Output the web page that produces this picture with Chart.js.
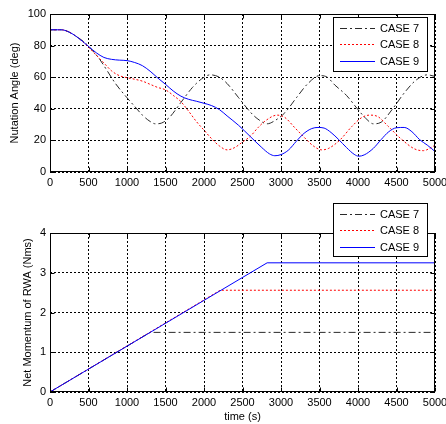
<!DOCTYPE html>
<html>
<head>
<meta charset="utf-8">
<script src="https://cdn.jsdelivr.net/npm/chart.js@4.4.1/dist/chart.umd.min.js"></script>
<style>
  html, body { margin: 0; padding: 0; background: #fff; }
  #wrap { position: relative; width: 446px; height: 424px; overflow: hidden; }
  canvas { position: absolute; left: 0; }
  #nutation-chart { top: 0; }
  #momentum-chart { top: 190px; }
</style>
</head>
<body>
<div id="wrap">
  <canvas id="nutation-chart" width="446" height="212"></canvas>
  <canvas id="momentum-chart" width="446" height="234"></canvas>
</div>
<script>
// series names
const caseLabels = ['CASE 7', 'CASE 8', 'CASE 9'];

// tick values
const timeTicks = [0, 500, 1000, 1500, 2000, 2500, 3000, 3500, 4000, 4500, 5000];
const angleTicks = [0, 20, 40, 60, 80, 100];
const momentumTicks = [0, 1, 2, 3, 4];

// nutation angle (deg)
const time7 = [0, 150, 250, 350, 450, 550, 650, 750, 850, 1000, 1100, 1200, 1300, 1370, 1450, 1550, 1700, 1850, 2000, 2080, 2200, 2300, 2450, 2600, 2700, 2820, 2920, 3050, 3200, 3350, 3500, 3600, 3700, 3850, 4000, 4100, 4200, 4300, 4450, 4600, 4750, 4900, 5000];
const angle7 = [90, 90, 88.5, 85.5, 82, 77, 71, 63.5, 56, 47, 41.5, 36, 32, 30.5, 31, 34.5, 44, 53.5, 60, 61.5, 60, 56, 47, 38, 33.5, 30.5, 32.5, 37.5, 47, 56, 61, 60, 55, 48.5, 39.5, 34, 30.5, 31.5, 40, 50, 58, 61.5, 60.5];

const time8 = [0, 150, 250, 350, 500, 600, 700, 800, 900, 1000, 1100, 1200, 1300, 1400, 1500, 1600, 1700, 1800, 1900, 2000, 2100, 2200, 2300, 2400, 2500, 2600, 2700, 2800, 2950, 3050, 3180, 3300, 3420, 3530, 3620, 3770, 3920, 4050, 4150, 4260, 4390, 4570, 4740, 4850, 4950, 5000];
const angle8 = [90, 90, 88.5, 85.5, 79, 74, 69, 64, 61, 59.7, 58.7, 57.5, 55.5, 53.5, 52, 48.5, 44.5, 38.5, 32, 26.5, 21, 16.5, 14, 15.5, 19, 22.5, 28, 32.5, 36, 34.5, 28, 22, 16.5, 14, 15, 20.5, 28.8, 34.5, 36, 35, 29, 20.5, 14.5, 13.5, 15.5, 17];

const time9 = [0, 150, 250, 350, 500, 600, 700, 800, 900, 1000, 1100, 1200, 1300, 1400, 1500, 1600, 1700, 1800, 1900, 2000, 2100, 2200, 2300, 2450, 2600, 2750, 2850, 2920, 3000, 3100, 3200, 3300, 3400, 3480, 3560, 3650, 3750, 3850, 3950, 4010, 4080, 4200, 4300, 4400, 4500, 4600, 4700, 4800, 4900, 5000];
const angle9 = [90, 90, 88.5, 85.5, 79.5, 75.5, 72.5, 71.3, 70.8, 70.5, 69.3, 67.3, 63.8, 59.5, 55.5, 51.3, 48, 46, 44.8, 43.5, 42, 39.5, 35.5, 29.5, 22.5, 15.5, 11.5, 10.3, 11, 14, 19.5, 24.5, 27.5, 28.2, 27.8, 25, 20.5, 15.5, 11.2, 10, 10.8, 15, 20.5, 25.5, 28, 28.2, 25.5, 20.5, 17, 13];

// net momentum of RWA (Nms)
const mTime7 = [0, 1300, 5000];
const momentum7 = [0, 1.5, 1.5];
const mTime8 = [0, 2210, 5000];
const momentum8 = [0, 2.56, 2.56];
const mTime9 = [0, 2820, 5000];
const momentum9 = [0, 3.25, 3.25];

const FONT = '"Liberation Sans", Arial, sans-serif';
Chart.defaults.font.family = FONT;
Chart.defaults.font.size = 11;
Chart.defaults.color = '#000';

const styles = [
  { color: '#2a2a2a', dash: [7, 3, 2, 3], order: 3 },
  { color: '#ff0000', dash: [2, 2], order: 2 },
  { color: '#0000ff', dash: [], order: 1 }
];

function pairs(xs, ys) {
  return xs.map((x, i) => ({ x: x, y: ys[i] }));
}

function makeDatasets(series, smooth) {
  return series.map((s, i) => ({
    label: caseLabels[i],
    data: pairs(s[0], s[1]),
    borderColor: styles[i].color,
    borderDash: styles[i].dash,
    order: styles[i].order,
    borderWidth: 1,
    pointRadius: 0,
    fill: false,
    cubicInterpolationMode: smooth ? 'monotone' : 'default',
    tension: 0
  }));
}

// solid box round the plot area with small inward ticks
const framePlugin = {
  id: 'frame',
  afterDatasetsDraw(chart) {
    const { ctx, chartArea: a, scales } = chart;
    const L = a.left + 0.5, R = a.right - 0.5, T = a.top + 0.5, B = a.bottom - 0.5;
    ctx.save();
    ctx.strokeStyle = '#000';
    ctx.lineWidth = 1;
    ctx.setLineDash([]);
    ctx.strokeRect(L, T, R - L, B - T);
    ctx.beginPath();
    scales.x.ticks.forEach(t => {
      const px = Math.round(scales.x.getPixelForValue(t.value)) + 0.5;
      ctx.moveTo(px, B); ctx.lineTo(px, B - 4);
      ctx.moveTo(px, T); ctx.lineTo(px, T + 4);
    });
    scales.y.ticks.forEach(t => {
      const py = Math.round(scales.y.getPixelForValue(t.value)) + 0.5;
      ctx.moveTo(L, py); ctx.lineTo(L + 4, py);
      ctx.moveTo(R, py); ctx.lineTo(R - 4, py);
    });
    ctx.stroke();
    ctx.restore();
  }
};

// legend box drawn inside the axes, like the original figure
const boxLegend = {
  id: 'boxLegend',
  afterDraw(chart, args, opts) {
    const { ctx } = chart;
    const { x, y, w, h, rowTop, rowGap } = opts;
    ctx.save();
    ctx.fillStyle = '#fff';
    ctx.fillRect(x, y, w, h);
    ctx.strokeStyle = '#000';
    ctx.lineWidth = 1;
    ctx.setLineDash([]);
    ctx.strokeRect(x + 0.5, y + 0.5, w, h);
    ctx.font = '11px ' + FONT;
    ctx.textBaseline = 'middle';
    ctx.textAlign = 'left';
    caseLabels.forEach((label, i) => {
      const cy = Math.round(y + rowTop + i * rowGap) + 0.5;
      ctx.strokeStyle = styles[i].color;
      ctx.lineWidth = 1;
      ctx.setLineDash(styles[i].dash);
      ctx.beginPath();
      ctx.moveTo(x + 7, cy);
      ctx.lineTo(x + 42, cy);
      ctx.stroke();
      ctx.setLineDash([]);
      ctx.fillStyle = '#000';
      ctx.fillText(label, x + 47, cy);
    });
    ctx.restore();
  }
};

function axisOptions(opt) {
  return {
    x: {
      type: 'linear',
      min: 0,
      max: 5000,
      afterBuildTicks: s => { s.ticks = timeTicks.map(v => ({ value: v })); },
      ticks: { padding: 4, maxRotation: 0, autoSkip: false, color: '#000', callback: v => String(v) },
      grid: { color: '#000', lineWidth: 1, drawTicks: false },
      border: { display: false, dash: [2, 2] },
      title: { display: !!opt.xTitle, text: opt.xTitle || '', padding: { top: 0, bottom: 0 }, color: '#000' },
      afterFit: s => { s.height = opt.xHeight; s.paddingLeft = 0; s.paddingRight = 0; }
    },
    y: {
      type: 'linear',
      min: opt.yTicks[0],
      max: opt.yTicks[opt.yTicks.length - 1],
      afterBuildTicks: s => { s.ticks = opt.yTicks.map(v => ({ value: v })); },
      ticks: { padding: 4, autoSkip: false, color: '#000', callback: v => String(v) },
      grid: { color: '#000', lineWidth: 1, drawTicks: false },
      border: { display: false, dash: [2, 2] },
      title: { display: true, text: opt.yTitle, padding: { top: opt.yTitlePad, bottom: 0 }, color: '#000' },
      afterFit: s => { s.width = 50; s.paddingTop = 0; s.paddingBottom = 0; }
    }
  };
}

new Chart(document.getElementById('nutation-chart'), {
  type: 'line',
  data: {
    datasets: makeDatasets([[time7, angle7], [time8, angle8], [time9, angle9]], true)
  },
  options: {
    responsive: false,
    animation: false,
    devicePixelRatio: 1,
    layout: { padding: { top: 14, right: 11, left: 0, bottom: 0 } },
    plugins: {
      legend: { display: false },
      tooltip: { enabled: false },
      boxLegend: { x: 333, y: 17, w: 94, h: 54, rowTop: 10.5, rowGap: 16.6 }
    },
    scales: axisOptions({ yTicks: angleTicks, yTitle: 'Nutation Angle (deg)', yTitlePad: 8, xHeight: 40 })
  },
  plugins: [framePlugin, boxLegend]
});

new Chart(document.getElementById('momentum-chart'), {
  type: 'line',
  data: {
    datasets: makeDatasets([[mTime7, momentum7], [mTime8, momentum8], [mTime9, momentum9]], false)
  },
  options: {
    responsive: false,
    animation: false,
    devicePixelRatio: 1,
    layout: { padding: { top: 43, right: 11, left: 0, bottom: 0 } },
    plugins: {
      legend: { display: false },
      tooltip: { enabled: false },
      boxLegend: { x: 333, y: 13, w: 94, h: 53, rowTop: 10.5, rowGap: 16.8 }
    },
    scales: axisOptions({ yTicks: momentumTicks, yTitle: 'Net Momentum of RWA (Nms)', yTitlePad: 21, xHeight: 32, xTitle: 'time (s)' })
  },
  plugins: [framePlugin, boxLegend]
});
</script>
</body>
</html>
